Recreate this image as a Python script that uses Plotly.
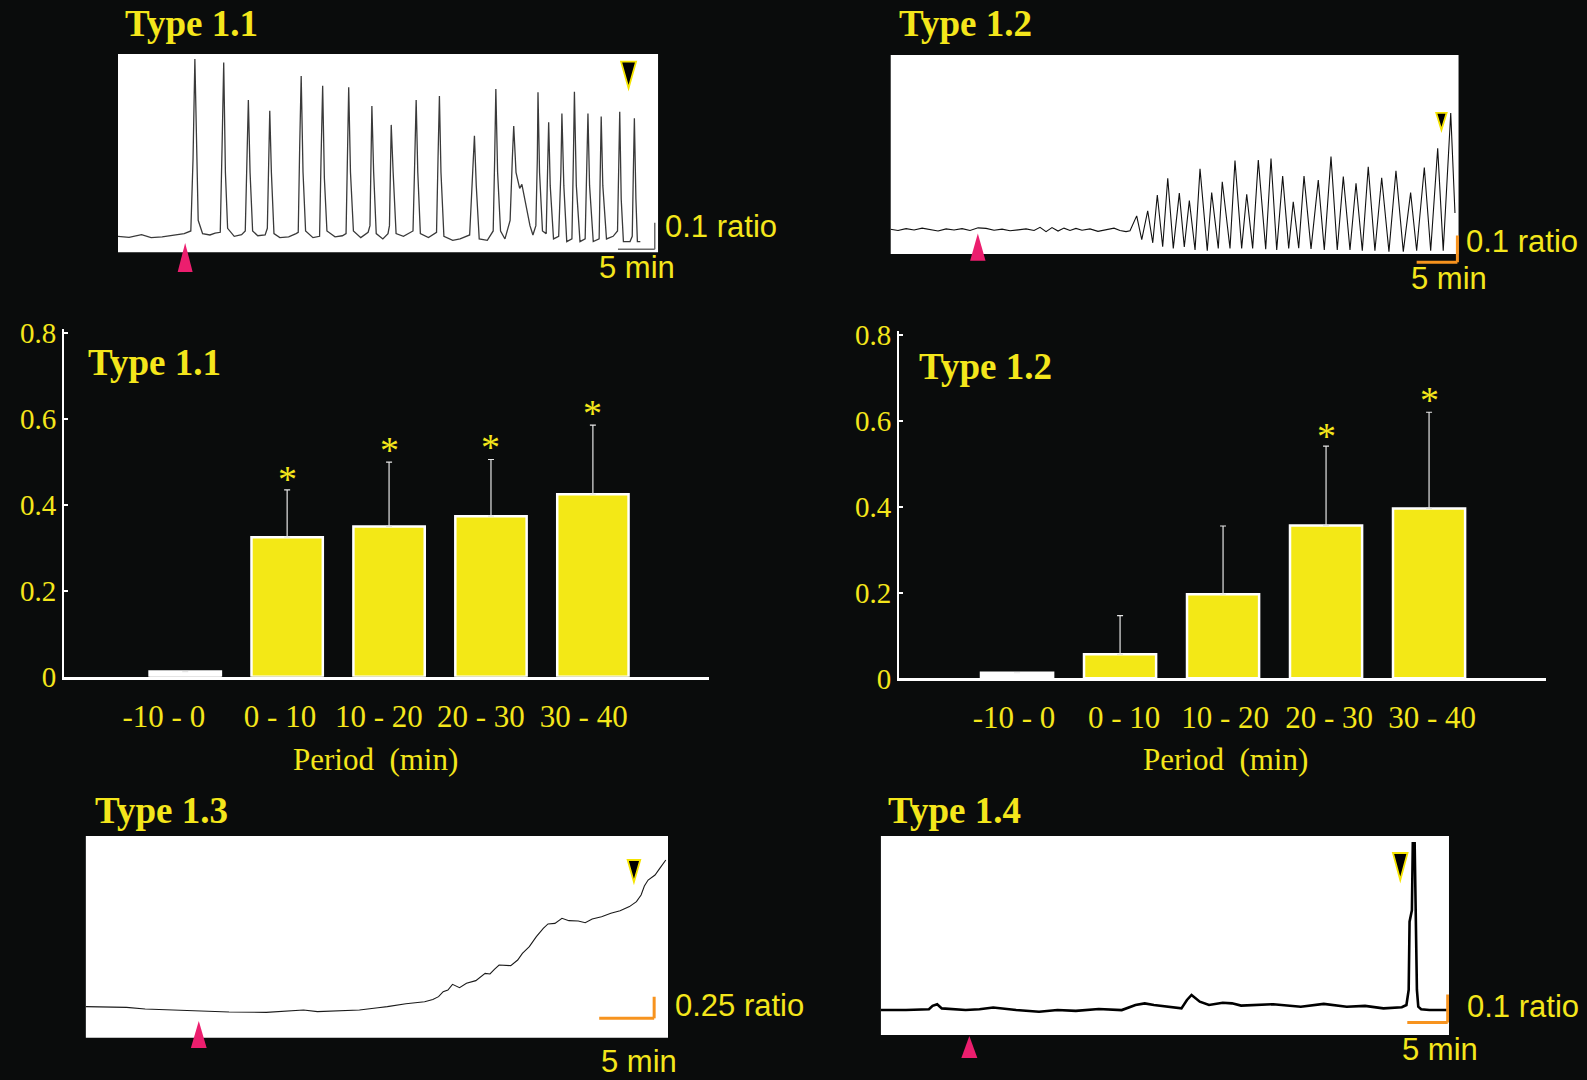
import plotly.graph_objects as go

BG = "#0a0c0c"
YEL = "#f3e816"
TXT = "#f4e61b"
ORANGE = "#f7931e"
PINK = "#ec1e6e"
SERIF = "Liberation Serif"
SANS = "Liberation Sans"

# ---------------- bar chart data ----------------
periods = ["-10 - 0", "0 - 10", "10 - 20", "20 - 30", "30 - 40"]
t11_mean = [0.012, 0.325, 0.350, 0.374, 0.425]
t11_err = [0.0, 0.110, 0.150, 0.132, 0.161]
t11_star = [None, 0.470, 0.537, 0.544, 0.624]
t12_mean = [0.013, 0.056, 0.196, 0.356, 0.396]
t12_err = [0.0, 0.090, 0.159, 0.185, 0.224]
t12_star = [None, None, None, 0.575, 0.658]
bar_colors = ["#ffffff", YEL, YEL, YEL, YEL]

# ---------------- recordings (time in min, ratio) ----------------
trace_11 = [(0.0,0.060),(1.5,0.056),(3.2,0.066),(4.5,0.055),(6.0,0.058),(7.8,0.066),(9.0,0.070),(9.9,0.080),
    (10.2,0.35),(10.45,0.725),(10.65,0.40),(10.9,0.12),(11.5,0.070),(12.5,0.065),(13.2,0.072),(13.9,0.075),
    (14.15,0.40),(14.37,0.712),(14.6,0.30),(14.9,0.09),(15.8,0.060),(16.8,0.066),(17.3,0.08),(17.55,0.32),
    (17.72,0.571),(17.95,0.30),(18.3,0.08),(19.0,0.062),(20.0,0.065),(20.3,0.09),(20.5,0.35),(20.63,0.531),
    (20.85,0.30),(21.2,0.07),(22.0,0.055),(23.2,0.058),(24.2,0.07),(24.5,0.075),(24.7,0.40),(24.9,0.661),
    (25.15,0.30),(25.5,0.08),(26.5,0.055),(27.4,0.06),(27.6,0.35),(27.82,0.625),(28.05,0.28),(28.4,0.08),
    (29.5,0.058),(30.5,0.062),(31.0,0.07),(31.2,0.40),(31.36,0.619),(31.6,0.30),(32.0,0.08),(33.0,0.055),
    (34.0,0.075),(34.25,0.10),(34.4,0.35),(34.51,0.549),(34.75,0.30),(35.1,0.07),(36.0,0.05),(36.7,0.07),
    (36.9,0.10),(37.0,0.30),(37.14,0.478),(37.4,0.30),(37.8,0.07),(38.8,0.06),(39.5,0.07),(40.1,0.08),
    (40.3,0.30),(40.53,0.571),(40.75,0.30),(41.1,0.07),(42.2,0.055),(43.3,0.075),(43.5,0.35),(43.69,0.586),
    (43.9,0.30),(44.3,0.06),(45.5,0.045),(46.5,0.05),(47.8,0.065),(48.2,0.30),(48.45,0.4375),(48.7,0.25),
    (49.1,0.05),(50.2,0.045),(51.0,0.08),(51.2,0.35),(51.36,0.6125),(51.6,0.30),(52.0,0.08),(52.6,0.05),
    (53.3,0.12),(53.6,0.35),(53.79,0.474),(54.1,0.30),(54.6,0.24),(54.9,0.255),(55.3,0.20),(56.0,0.10),
    (56.4,0.065),(56.8,0.10),(57.0,0.35),(57.09,0.60),(57.3,0.30),(57.7,0.08),(58.2,0.07),(58.4,0.30),
    (58.54,0.4875),(58.75,0.25),(59.2,0.05),(59.9,0.06),(60.2,0.30),(60.34,0.521),(60.6,0.25),(61.0,0.04),
    (61.7,0.05),(61.9,0.35),(62.04,0.6025),(62.3,0.25),(62.8,0.04),(63.5,0.05),(63.75,0.30),(63.88,0.521),
    (64.1,0.25),(64.6,0.04),(65.4,0.05),(65.55,0.30),(65.68,0.509),(65.9,0.25),(66.4,0.05),(67.3,0.06),
    (67.9,0.08),(68.05,0.30),(68.2,0.5275),(68.4,0.20),(68.7,0.04),(69.6,0.04),(69.9,0.06),(70.05,0.30),
    (70.19,0.5025),(70.4,0.20),(70.6,0.04),(71.0,0.04)]

trace_12 = [(0.0,0.093),(0.93,0.088),(1.91,0.095),(2.90,0.090),(3.88,0.097),(4.86,0.092),(5.84,0.086),
    (6.82,0.094),(7.80,0.090),(8.78,0.095),(9.76,0.088),(10.75,0.098),(11.73,0.096),(12.71,0.089),(13.69,0.093),
    (14.67,0.087),(15.65,0.091),(16.63,0.094),(17.62,0.088),(18.35,0.100),(19.09,0.084),(19.82,0.099),
    (20.56,0.086),(21.29,0.097),(22.03,0.088),(22.76,0.096),(23.50,0.089),(24.48,0.094),(25.46,0.085),
    (26.45,0.091),(27.43,0.097),(28.16,0.088),(28.90,0.084),(29.39,0.087),
    (30.21,0.143),(30.83,0.054),(31.56,0.162),(32.18,0.042),(32.74,0.221),(33.40,0.027),(34.02,0.284),
    (34.70,0.021),(35.44,0.228),(36.05,0.026),(36.67,0.200),(37.37,0.015),(37.98,0.319),(38.87,0.012),
    (39.41,0.230),(40.22,0.021),(40.71,0.271),(41.66,0.021),(42.27,0.350),(43.09,0.021),(43.71,0.224),
    (44.44,0.021),(45.13,0.352),(46.04,0.018),(46.69,0.358),(47.39,0.015),(48.12,0.292),(48.86,0.021),
    (49.42,0.196),(50.09,0.022),(50.74,0.292),(51.60,0.019),(52.49,0.277),(53.23,0.015),(54.05,0.365),
    (54.82,0.015),(55.56,0.290),(56.38,0.015),(57.12,0.265),(57.89,0.012),(58.62,0.327),(59.44,0.012),
    (60.27,0.286),(61.16,0.009),(62.02,0.312),(62.92,0.009),(63.82,0.230),(64.56,0.012),(65.50,0.324),
    (66.28,0.012),(67.14,0.396),(67.82,0.012),(68.74,0.528),(69.26,0.154)]

trace_13 = [(0.0,0.358),(1.8,0.355),(3.73,0.350),(5.42,0.331),(7.97,0.319),(10.51,0.304),(13.05,0.296),
    (16.44,0.292),(18.56,0.308),(19.83,0.319),(21.10,0.300),(23.22,0.308),(24.92,0.319),(26.61,0.346),
    (27.46,0.358),(29.15,0.392),(30.85,0.415),(31.6,0.440),(32.12,0.473),(32.54,0.531),(32.97,0.550),
    (33.39,0.615),(34.03,0.577),(34.66,0.627),(35.51,0.658),(36.36,0.742),(36.8,0.735),(37.20,0.788),
    (37.63,0.838),(38.69,0.831),(39.32,0.896),(39.75,0.973),(40.38,1.050),(41.02,1.165),(41.65,1.262),
    (42.08,1.312),(42.71,1.319),(43.35,1.377),(43.98,1.350),(44.83,1.346),(45.47,1.327),(46.10,1.369),
    (46.95,1.396),(47.80,1.435),(48.64,1.465),(49.49,1.512),(50.13,1.569),(50.55,1.646),(50.85,1.750),
    (51.19,1.819),(51.82,1.877),(52.25,1.954),(52.80,2.050)]

trace_14 = [(0.0,0.089),(3.13,0.089),(5.97,0.092),(6.42,0.104),(6.99,0.110),(7.56,0.095),(10.51,0.089),
    (12.22,0.092),(13.92,0.098),(16.76,0.089),(19.60,0.083),(21.88,0.089),(24.15,0.086),(26.99,0.093),
    (29.83,0.089),(31.53,0.107),(32.67,0.113),(33.81,0.107),(37.22,0.095),(37.90,0.125),(38.47,0.143),
    (39.49,0.119),(40.63,0.107),(42.33,0.115),(43.47,0.113),(44.60,0.105),(48.58,0.110),(51.99,0.101),
    (54.83,0.111),(57.67,0.101),(59.94,0.104),(62.22,0.095),(64.49,0.099),(65.06,0.107),(65.34,0.161),
    (65.45,0.405),(65.74,0.446),(65.85,0.685),(66.08,0.685),(66.25,0.446),(66.36,0.161),(66.53,0.101),
    (66.88,0.092),(67.90,0.089),(70.06,0.089)]

stim_times = [9.13, 10.72, 10.3, 10.97]      # pink arrowheads (min)
end_times = [69.4, 67.6, 49.9, 64.3]         # black arrowheads (min)
scale_min = 5
scale_ratio = [0.1, 0.1, 0.25, 0.1]

# ---------------- layout geometry (positions/styles) ----------------
panels = [
    dict(ax="", data=trace_11, color="#3a3a3a", lw=1.3, box=(73.43, 0.744),
         xr=[0, 73.43], yr=[-0.09, 0.744], xd=[0.07435, 0.41475], yd=[0.7442, 0.95],
         corner=(72.96, 0.011), sbcolor="#6a6a6a", sbw=1.5,
         pink="M-7.5,-19.7 L7.5,-19.7 L0,9.3 Z", black="M-7.5,-7.7 L7.5,-7.7 L0,-34.3 Z"),
    dict(ax="2", data=trace_12, color="#111111", lw=1.1, box=(69.7, 0.746),
         xr=[0, 70.0], yr=[-0.045, 0.746], xd=[0.5611, 0.9206], yd=[0.7537, 0.9491],
         corner=(69.56, -0.031), sbcolor=ORANGE, sbw=3,
         pink="M-7.7,-6.7 L7.7,-6.7 L0,20.6 Z", black="M-5.2,-58 L5.2,-58 L0,-75 Z"),
    dict(ax="5", data=trace_13, color="#1a1a1a", lw=1.1, box=(53.0, 2.327),
         xr=[0, 53.0], yr=[-0.155, 2.327], xd=[0.05394, 0.42092], yd=[0.02676, 0.22593],
         corner=(51.74, 0.223), sbcolor=ORANGE, sbw=3,
         pink="M-7.9,-10.3 L7.9,-10.3 L0,16.7 Z", black="M-6.3,-24 L6.3,-24 L0,-46 Z"),
    dict(ax="6", data=trace_14, color="#000000", lw=2.6, box=(70.33, 0.711),
         xr=[0, 70.33], yr=[-0.093, 0.711], xd=[0.55495, 0.91304], yd=[0.01759, 0.22593],
         corner=(70.17, 0.045), sbcolor=ORANGE, sbw=3,
         pink="M-8,-23 L8,-23 L0,-1 Z", black="M-7.3,-17 L7.3,-17 L0,-44 Z"),
]

fig = go.Figure()
shapes = []
annotations = []
layout_axes = {}

for i, p in enumerate(panels):
    ax = p["ax"]
    xa, ya = "x" + ax, "y" + ax
    tt = [q[0] for q in p["data"]]
    rr = [q[1] for q in p["data"]]
    fig.add_trace(go.Scatter(x=tt, y=rr, mode="lines", xaxis=xa, yaxis=ya,
                             line=dict(color=p["color"], width=p["lw"]), showlegend=False,
                             hoverinfo="skip"))
    layout_axes["xaxis" + ax] = dict(domain=p["xd"], range=p["xr"], visible=False, anchor=ya, fixedrange=True)
    layout_axes["yaxis" + ax] = dict(domain=p["yd"], range=p["yr"], visible=False, anchor=xa, fixedrange=True)
    bw, bh = p["box"]
    shapes.append(dict(type="rect", xref=xa, yref=ya, x0=0, x1=bw, y0=0, y1=bh,
                       fillcolor="white", line=dict(width=0), layer="below"))
    cx, cy = p["corner"]
    shapes.append(dict(type="line", xref=xa, yref=ya, x0=cx - scale_min, x1=cx, y0=cy, y1=cy,
                       line=dict(color=p["sbcolor"], width=p["sbw"])))
    shapes.append(dict(type="line", xref=xa, yref=ya, x0=cx, x1=cx, y0=cy, y1=cy + scale_ratio[i],
                       line=dict(color=p["sbcolor"], width=p["sbw"])))
    shapes.append(dict(type="path", xref=xa, yref=ya, xsizemode="pixel", ysizemode="pixel",
                       xanchor=stim_times[i], yanchor=0, path=p["pink"],
                       fillcolor=PINK, line=dict(width=0)))
    shapes.append(dict(type="path", xref=xa, yref=ya, xsizemode="pixel", ysizemode="pixel",
                       xanchor=end_times[i], yanchor=bh, path=p["black"],
                       fillcolor="black", line=dict(color="#f5e400", width=1.8)))

# ---------------- bar charts ----------------
bar_pos = list(range(len(periods)))
bars = [
    dict(ax="3", mean=t11_mean, err=t11_err, star=t11_star, xd=[0.0403, 0.4468], yd=[0.3734, 0.6954],
         xr=[-1.19, 5.14], labpos=[-0.21, 0.93, 1.9, 2.9, 3.91]),
    dict(ax="4", mean=t12_mean, err=t12_err, star=t12_star, xd=[0.5665, 0.9742], yd=[0.3719, 0.6938],
         xr=[-1.146, 5.136], labpos=[-0.03, 1.04, 2.02, 3.03, 4.03]),
]
for b in bars:
    ax = b["ax"]
    xa, ya = "x" + ax, "y" + ax
    fig.add_trace(go.Bar(x=bar_pos, y=b["mean"], xaxis=xa, yaxis=ya, width=0.70,
                         marker=dict(color=bar_colors, line=dict(color="white", width=2.5)),
                         error_y=dict(type="data", array=b["err"], arrayminus=[0] * len(b["err"]),
                                      symmetric=False, color="#e6e6e6", thickness=1.2, width=3),
                         showlegend=False, hoverinfo="skip"))
    layout_axes["xaxis" + ax] = dict(domain=b["xd"], range=b["xr"], anchor=ya,
                                     tickmode="array", tickvals=b["labpos"], ticktext=periods,
                                     showline=True, linecolor="white", linewidth=2.5, ticks="",
                                     showgrid=False, zeroline=False, fixedrange=True,
                                     tickfont=dict(family=SERIF, size=31, color=TXT),
                                     ticklabelstandoff=10)
    layout_axes["yaxis" + ax] = dict(domain=b["yd"], range=[0, 0.81], anchor=xa,
                                     showline=True, linecolor="white", linewidth=2,
                                     ticks="inside", ticklen=4, tickcolor="white", tickwidth=1.5,
                                     tickvals=[0, 0.2, 0.4, 0.6, 0.8], ticktext=["0", "0.2", "0.4", "0.6", "0.8"],
                                     showgrid=False, zeroline=False, fixedrange=True,
                                     tickfont=dict(family=SERIF, size=29, color=TXT))
    for k, s in enumerate(b["star"]):
        if s is not None:
            annotations.append(dict(xref=xa, yref=ya, x=bar_pos[k], y=s, text="*", showarrow=False,
                                    yanchor="middle", yshift=-4,
                                    font=dict(family=SERIF, size=38, color=TXT)))

# ---------------- texts ----------------
def ptext(x, y, text, size, family, xanchor="left", bold=False):
    annotations.append(dict(xref="paper", yref="paper", x=x, y=y, text=("<b>%s</b>" % text) if bold else text,
                            showarrow=False, xanchor=xanchor, yanchor="middle",
                            font=dict(family=family, size=size, color=TXT)))

for (x, y, t) in [(0.0775, 0.9778, "Type 1.1"), (0.5652, 0.9778, "Type 1.2"),
                  (0.0542, 0.6648, "Type 1.1"), (0.5778, 0.6602, "Type 1.2"),
                  (0.0586, 0.2500, "Type 1.3"), (0.5583, 0.2500, "Type 1.4")]:
    ptext(x, y, t, 37, SERIF, bold=True)

for (x, y) in [(0.2369, 0.2963), (0.7719, 0.2972)]:
    ptext(x, y, "Period\u00a0\u00a0(min)", 31, SERIF, xanchor="center")

for (x, y, t, xa) in [(0.4178, 0.7901, "0.1 ratio", "left"), (0.4011, 0.7519, "5 min", "center"),
                      (0.9228, 0.7762, "0.1 ratio", "left"), (0.9130, 0.7417, "5 min", "center"),
                      (0.4238, 0.0690, "0.25 ratio", "left"), (0.4026, 0.0175, "5 min", "center"),
                      (0.9231, 0.0685, "0.1 ratio", "left"), (0.9074, 0.0278, "5 min", "center")]:
    ptext(x, y, t, 31, SANS, xanchor=xa)

fig.update_layout(width=1587, height=1080, margin=dict(l=0, r=0, t=0, b=0, autoexpand=False),
                  paper_bgcolor=BG, plot_bgcolor=BG, showlegend=False, barmode="overlay",
                  shapes=shapes, annotations=annotations, **layout_axes)

fig.write_html("out.html", config={"displayModeBar": False},
               post_script="document.body.style.margin='0';document.body.style.overflow='hidden';")
